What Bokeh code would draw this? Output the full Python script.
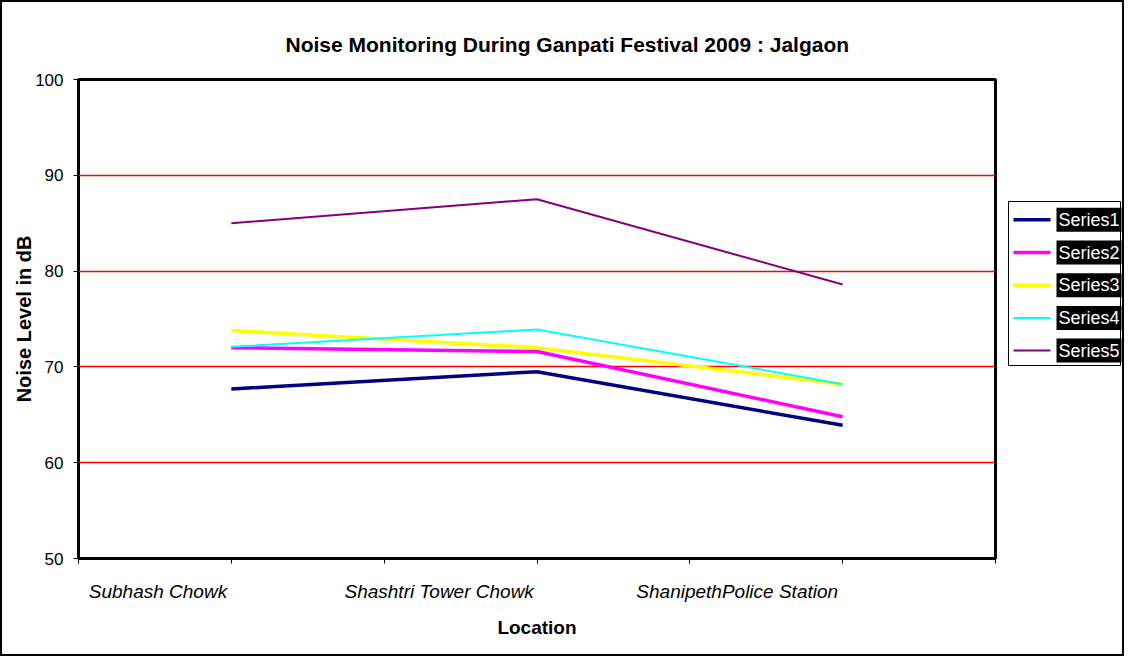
from bokeh.plotting import figure
from bokeh.models import FixedTicker, Range1d
from bokeh.layouts import row
from bokeh.embed import file_html
from bokeh.resources import INLINE
from bokeh.core.properties import value

# ---- data ----
locations = ["Subhash Chowk", "Shashtri Tower Chowk", "ShanipethPolice Station"]
series_names = ["Series1", "Series2", "Series3", "Series4", "Series5"]
series1 = [67.7, 69.5, 63.9]
series2 = [72.0, 71.6, 64.8]
series3 = [73.8, 72.0, 68.2]
series4 = [72.1, 73.9, 68.2]
series5 = [85.0, 87.5, 78.6]
y_ticks = [50, 60, 70, 80, 90, 100]

# ---- styles ----
colors = ["#000080", "#FF00FF", "#FFFF00", "#00FFFF", "#800080"]
widths = [3.5, 3.5, 3.5, 2, 2]
FONT = "Liberation Sans"

all_series = [series1, series2, series3, series4, series5]
x_pos = [2 * i + 1 for i in range(len(locations))]
label_pos = [0.52, 2.36, 4.31]
band_ticks = list(range(0, 2 * len(locations) + 1))

TOP, BOTTOM, H = 77, 96, 652

p = figure(width=995, height=H, x_range=Range1d(0, 2 * len(locations)),
           y_range=Range1d(y_ticks[0], y_ticks[-1]),
           output_backend="svg", toolbar_location=None,
           min_border_left=76, min_border_right=2, min_border_top=TOP, min_border_bottom=BOTTOM,
           title="Noise Monitoring During Ganpati Festival 2009 : Jalgaon")
p.title.align = "left"
p.title.offset = 207
p.title.standoff = 48
p.title.text_font = FONT
p.title.text_font_size = "21px"
p.title.text_font_style = "bold"
p.title.text_color = "black"

p.outline_line_color = "black"
p.outline_line_width = 3
p.background_fill_color = "white"
p.border_fill_color = "white"

p.xgrid.visible = False
p.ygrid.ticker = FixedTicker(ticks=y_ticks)
p.ygrid.grid_line_color = "#FF0000"
p.ygrid.grid_line_width = 1.3

p.yaxis.ticker = FixedTicker(ticks=y_ticks)
p.yaxis.axis_line_color = None
p.yaxis.major_tick_out = 5
p.yaxis.major_tick_in = 0
p.yaxis.major_tick_line_color = "black"
p.yaxis.minor_tick_line_color = None
p.yaxis.major_label_standoff = 10
p.yaxis.major_label_text_font = FONT
p.yaxis.major_label_text_font_size = "17px"
p.yaxis.major_label_text_color = "black"
p.yaxis.axis_label = "Noise Level in dB"
p.yaxis.axis_label_text_font = FONT
p.yaxis.axis_label_text_font_size = "20px"
p.yaxis.axis_label_text_font_style = "bold"
p.yaxis.axis_label_text_color = "black"
p.yaxis.axis_label_standoff = -3

p.xaxis.ticker = FixedTicker(ticks=label_pos, minor_ticks=band_ticks)
p.xaxis.major_label_overrides = {lp: name for lp, name in zip(label_pos, locations)}
p.xaxis.axis_line_color = None
p.xaxis.major_tick_line_color = None
p.xaxis.major_tick_out = 0
p.xaxis.major_tick_in = 0
p.xaxis.minor_tick_line_color = "black"
p.xaxis.minor_tick_out = 5
p.xaxis.minor_tick_in = 0
p.xaxis.major_label_standoff = 17
p.xaxis.major_label_text_font = FONT
p.xaxis.major_label_text_font_size = "19px"
p.xaxis.major_label_text_font_style = "italic"
p.xaxis.major_label_text_color = "black"
p.xaxis.axis_label = "Location"
p.xaxis.axis_label_text_font = FONT
p.xaxis.axis_label_text_font_size = "19px"
p.xaxis.axis_label_text_font_style = "bold"
p.xaxis.axis_label_text_color = "black"
p.xaxis.axis_label_standoff = 12

for s, c, w in zip(all_series, colors, widths):
    p.line(x=x_pos, y=s, line_color=c, line_width=w)

# ---- legend panel (same frame height as the chart, box drawn inside) ----
n = len(series_names)
LW = 125
FH = H - TOP - BOTTOM
leg = figure(width=LW, height=H, x_range=Range1d(0, LW), y_range=Range1d(FH, 0),
             output_backend="svg", toolbar_location=None,
             min_border_left=0, min_border_right=0, min_border_top=TOP, min_border_bottom=BOTTOM)
leg.axis.visible = False
leg.grid.visible = False
leg.outline_line_color = None
leg.background_fill_color = "white"
leg.border_fill_color = "white"

box_left, box_right, box_top, box_bottom = 11, 123, 122, 286
leg.quad(left=[box_left], right=[box_right], top=[box_top], bottom=[box_bottom],
         fill_color="white", line_color="black", line_width=1)
item_y = [box_top + 18.3 + 32.7 * i for i in range(n)]
for i, (c, w) in enumerate(zip(colors, widths)):
    leg.line(x=[box_left + 5, box_left + 42], y=[item_y[i]] * 2, line_color=c, line_width=w)
leg.text(x=[box_left + 48] * n, y=item_y, text=series_names, text_color="white",
         text_font=value(FONT), text_font_size="18px", text_baseline="middle",
         background_fill_color="black", padding=2)

layout = row(p, leg, styles={"border": "2px solid black", "background-color": "white"})

open("out.html", "w").write(file_html(layout, INLINE))
